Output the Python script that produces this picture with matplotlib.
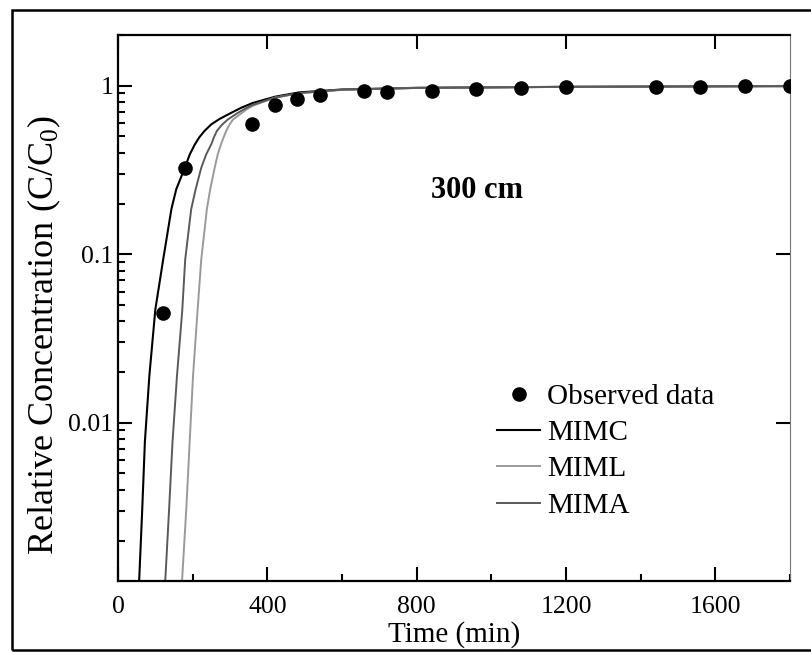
import numpy as np
import matplotlib
matplotlib.use('Agg')
import matplotlib.pyplot as plt
from matplotlib.ticker import MultipleLocator, FixedLocator, LogLocator, NullFormatter
from matplotlib.patches import Rectangle

plt.rcParams['font.family'] = ['Liberation Serif', 'DejaVu Serif']
plt.rcParams['mathtext.fontset'] = 'custom'
plt.rcParams['mathtext.rm'] = 'Liberation Serif'
plt.rcParams['mathtext.it'] = 'Liberation Serif:italic'

# observed breakthrough data (300 cm)
obs_t = [120, 180, 360, 420, 480, 540, 660, 720, 840, 960, 1080, 1200, 1440, 1560, 1680, 1800]
obs_c = [0.045, 0.327, 0.59, 0.77, 0.83, 0.88, 0.93, 0.92, 0.934, 0.956, 0.968, 0.977, 0.977, 0.977, 0.99, 1.0]

# model curves
mimc_t = [55, 57, 65, 72, 84, 100, 121, 143, 156, 179, 192, 205, 218, 232, 250, 272, 303, 330, 361,
          420, 485, 600, 800, 1200, 1800]
mimc_c = [0.001, 0.0012, 0.0031, 0.0077, 0.019, 0.047, 0.093, 0.185, 0.243, 0.326, 0.39, 0.445, 0.495,
          0.54, 0.59, 0.635, 0.69, 0.74, 0.79, 0.86, 0.913, 0.95, 0.972, 0.985, 0.995]

miml_t = [170, 172, 183, 192, 201, 213, 223, 238, 247, 259, 267, 276, 283, 290, 298, 308, 332, 345, 361,
          420, 485, 600, 800, 1200, 1800]
miml_c = [0.001, 0.0012, 0.0031, 0.0077, 0.019, 0.046, 0.093, 0.185, 0.243, 0.326, 0.39, 0.45, 0.495,
          0.54, 0.585, 0.63, 0.69, 0.725, 0.76, 0.85, 0.90, 0.945, 0.97, 0.985, 0.995]

mima_t = [125, 127, 137, 146, 158, 172, 180, 196, 208, 223, 236, 250, 257, 265, 278, 294, 321, 340, 361,
          420, 485, 600, 800, 1200, 1800]
mima_c = [0.001, 0.0012, 0.0031, 0.0077, 0.019, 0.046, 0.093, 0.185, 0.243, 0.326, 0.39, 0.45, 0.495,
          0.54, 0.585, 0.63, 0.69, 0.73, 0.77, 0.85, 0.905, 0.947, 0.97, 0.985, 0.995]

fig = plt.figure(figsize=(8.12, 6.52), dpi=100)
ax = fig.add_axes([118 / 812, 1 - 581 / 652, 672 / 812, 546 / 652])

# outer frame around the whole picture
fig.patches.append(Rectangle((12 / 812, 2 / 652), 1.0, 1 - 12 / 652, transform=fig.transFigure,
                             fill=False, edgecolor='black', linewidth=1.8))

ax.plot(mimc_t, mimc_c, color='black', lw=1.5, label='MIMC')
ax.plot(miml_t, miml_c, color='#9a9a9a', lw=1.4, label='MIML')
ax.plot(mima_t, mima_c, color='#5a5a5a', lw=1.4, label='MIMA')
ax.plot(obs_t, obs_c, 'o', color='black', ms=9.5, label='Observed data', zorder=5)

ax.set_yscale('log')
ax.set_xlim(0, 1800)
ax.set_ylim(0.00115, 2.0)

ax.xaxis.set_major_locator(MultipleLocator(400))
ax.xaxis.set_minor_locator(MultipleLocator(200))
ax.yaxis.set_major_locator(FixedLocator([0.001, 0.01, 0.1, 1]))
ax.yaxis.set_minor_locator(LogLocator(base=10, subs=np.arange(2, 10)))
ax.yaxis.set_minor_formatter(NullFormatter())
ax.set_yticklabels(['0.001', '0.01', '0.1', '1'])

ax.tick_params(which='both', direction='in', top=True, right=True, labelsize=18.5, width=1.5)
ax.tick_params(which='major', length=10)
ax.tick_params(which='minor', length=5, top=False, right=False)
ax.tick_params(axis='x', pad=11)

for s in ['left', 'bottom', 'top']:
    ax.spines[s].set_linewidth(1.6)
ax.spines['right'].set_linewidth(0.8)
ax.spines['right'].set_color('#777777')

ax.set_xlabel('Time (min)', fontsize=21, labelpad=2)
ax.set_ylabel('Relative Concentration (C/C$_0$)', fontsize=26)
ax.yaxis.set_label_coords(-0.082, 0.45)

ax.text(0.534, 0.716, '300 cm', transform=ax.transAxes, fontsize=22, fontweight='bold',
        ha='center', va='center')

h, l = ax.get_legend_handles_labels()
order = [3, 0, 1, 2]
ax.legend([h[i] for i in order], [l[i] for i in order], loc='upper left',
          bbox_to_anchor=(0.564, 0.362), frameon=False, fontsize=21, borderpad=0,
          borderaxespad=0, handlelength=1.48, handletextpad=0.25, labelspacing=0.34,
          numpoints=1)

fig.savefig('out.png', dpi=100)
